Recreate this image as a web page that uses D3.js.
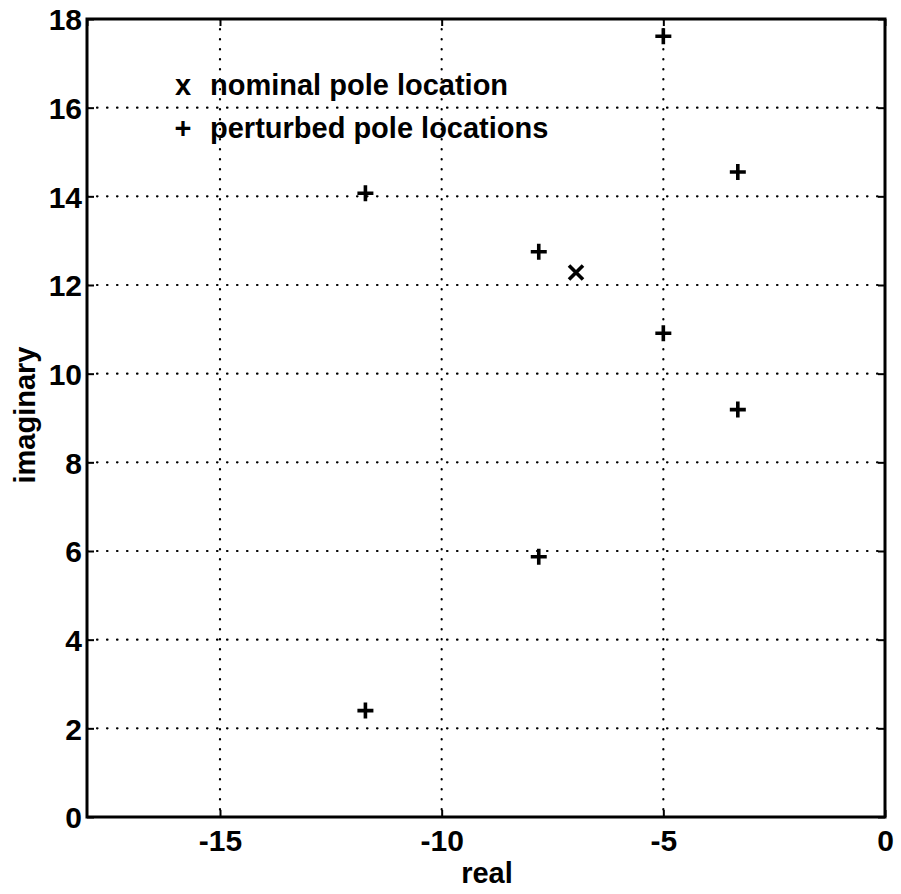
<!DOCTYPE html>
<html>
<head>
<meta charset="utf-8">
<script src="https://cdn.jsdelivr.net/npm/d3@7"></script>
<style>
	body { margin: 0; background: #fff; }
	text { font-family: "Liberation Sans", Arial, sans-serif; font-weight: bold; fill: #000; }
</style>
</head>
<body>
<div id="chart"></div>
<script>
// nominal pole and perturbed poles (real, imaginary)
var nominalRe = [-6.97];
var nominalIm = [12.28];
var perturbedRe = [-11.72, -11.72, -7.81, -7.81, -5.0, -5.0, -3.32, -3.32];
var perturbedIm = [14.07, 2.40, 12.75, 5.87, 17.61, 10.91, 14.55, 9.19];
var xTicks = [-18, -15, -10, -5, 0];
var yTicks = [0, 2, 4, 6, 8, 10, 12, 14, 16, 18];
var legendLabels = ['nominal pole location', 'perturbed pole locations'];

var W = 901, H = 894;
var margin = {top: 19, right: 16, bottom: 77, left: 87};
var width = W - margin.left - margin.right,
	height = H - margin.top - margin.bottom;

var svg = d3.select('#chart')
	.append('svg')
	.attr('width', W)
	.attr('height', H);

var g = svg.append('g')
	.attr('transform', 'translate(' + margin.left + ',' + margin.top + ')');

var x = d3.scaleLinear().domain([-18, 0]).range([0, width]);
var y = d3.scaleLinear().domain([0, 18]).range([height, 0]);

// plain hyphen for negatives, like the original
var fmt = function(d) { return String(d); };

// dotted grid
g.selectAll('.vgrid')
	.data(xTicks.filter(function(d) { return d > -18 && d < 0; }))
	.enter().append('line')
	.attr('x1', function(d) { return x(d); })
	.attr('x2', function(d) { return x(d); })
	.attr('y1', 0).attr('y2', height)
	.attr('stroke', '#000').attr('stroke-width', 2.2)
	.attr('stroke-linecap', 'round')
	.attr('stroke-dasharray', '0.5 9.5');

g.selectAll('.hgrid')
	.data(yTicks.filter(function(d) { return d > 0 && d < 18; }))
	.enter().append('line')
	.attr('y1', function(d) { return y(d); })
	.attr('y2', function(d) { return y(d); })
	.attr('x1', 0).attr('x2', width)
	.attr('stroke', '#000').attr('stroke-width', 2.2)
	.attr('stroke-linecap', 'round')
	.attr('stroke-dasharray', '0.5 9.5');

// axes
var xAxis = d3.axisBottom(x).tickValues(xTicks.filter(function(d) { return d > -18; }))
	.tickSize(-7).tickPadding(14).tickFormat(fmt);
var yAxis = d3.axisLeft(y).tickValues(yTicks)
	.tickSize(-7).tickPadding(5).tickFormat(fmt);

var gx = g.append('g')
	.attr('transform', 'translate(0,' + height + ')')
	.call(xAxis);
var gy = g.append('g').call(yAxis);

g.append('g').call(d3.axisTop(x).tickValues(xTicks).tickSize(-7).tickFormat(''));
g.append('g').attr('transform', 'translate(' + width + ',0)')
	.call(d3.axisRight(y).tickValues(yTicks).tickSize(-7).tickFormat(''));

g.selectAll('.domain').remove();
g.selectAll('.tick line').attr('stroke', '#000').attr('stroke-width', 2);
[gx, gy].forEach(function(a) {
	a.selectAll('text')
		.style('font-size', '30px')
		.style('font-weight', 'bold')
		.style('font-family', '"Liberation Sans", Arial, sans-serif')
		.attr('fill', '#000');
});
gx.selectAll('text').attr('dy', '0.66em');
gy.selectAll('text').attr('dy', '0.36em');

// frame
g.append('rect')
	.attr('width', width).attr('height', height)
	.attr('fill', 'none')
	.attr('stroke', '#000').attr('stroke-width', 3);

// markers
function plusPath(s) {
	return 'M' + (-s) + ',0H' + s + 'M0,' + (-s) + 'V' + s;
}
function crossPath(s) {
	return 'M' + (-s) + ',' + (-s) + 'L' + s + ',' + s + 'M' + (-s) + ',' + s + 'L' + s + ',' + (-s);
}

g.selectAll('.pert')
	.data(perturbedRe)
	.enter().append('path')
	.attr('transform', function(d, i) { return 'translate(' + x(d) + ',' + y(perturbedIm[i]) + ')'; })
	.attr('d', plusPath(8))
	.attr('stroke', '#000').attr('stroke-width', 3.6)
	.attr('fill', 'none');

g.selectAll('.nom')
	.data(nominalRe)
	.enter().append('path')
	.attr('transform', function(d, i) { return 'translate(' + x(d) + ',' + y(nominalIm[i]) + ')'; })
	.attr('d', crossPath(7))
	.attr('stroke', '#000').attr('stroke-width', 3.6)
	.attr('fill', 'none');

// legend (text symbols as in the original)
var legend = svg.append('g');
var legendSym = ['x', '+'];
legendLabels.forEach(function(t, i) {
	legend.append('text')
		.attr('x', 183).attr('y', 95 + i * 43)
		.attr('text-anchor', 'middle')
		.style('font-size', '29px')
		.text(legendSym[i]);
	legend.append('text')
		.attr('x', 210).attr('y', 95 + i * 43)
		.style('font-size', '29px')
		.text(t);
});

// axis titles
svg.append('text')
	.attr('x', 487).attr('y', 883)
	.attr('text-anchor', 'middle')
	.style('font-size', '29px')
	.text('real');

svg.append('text')
	.attr('transform', 'translate(35,415) rotate(-90)')
	.attr('text-anchor', 'middle')
	.style('font-size', '29px')
	.text('imaginary');
</script>
</body>
</html>
